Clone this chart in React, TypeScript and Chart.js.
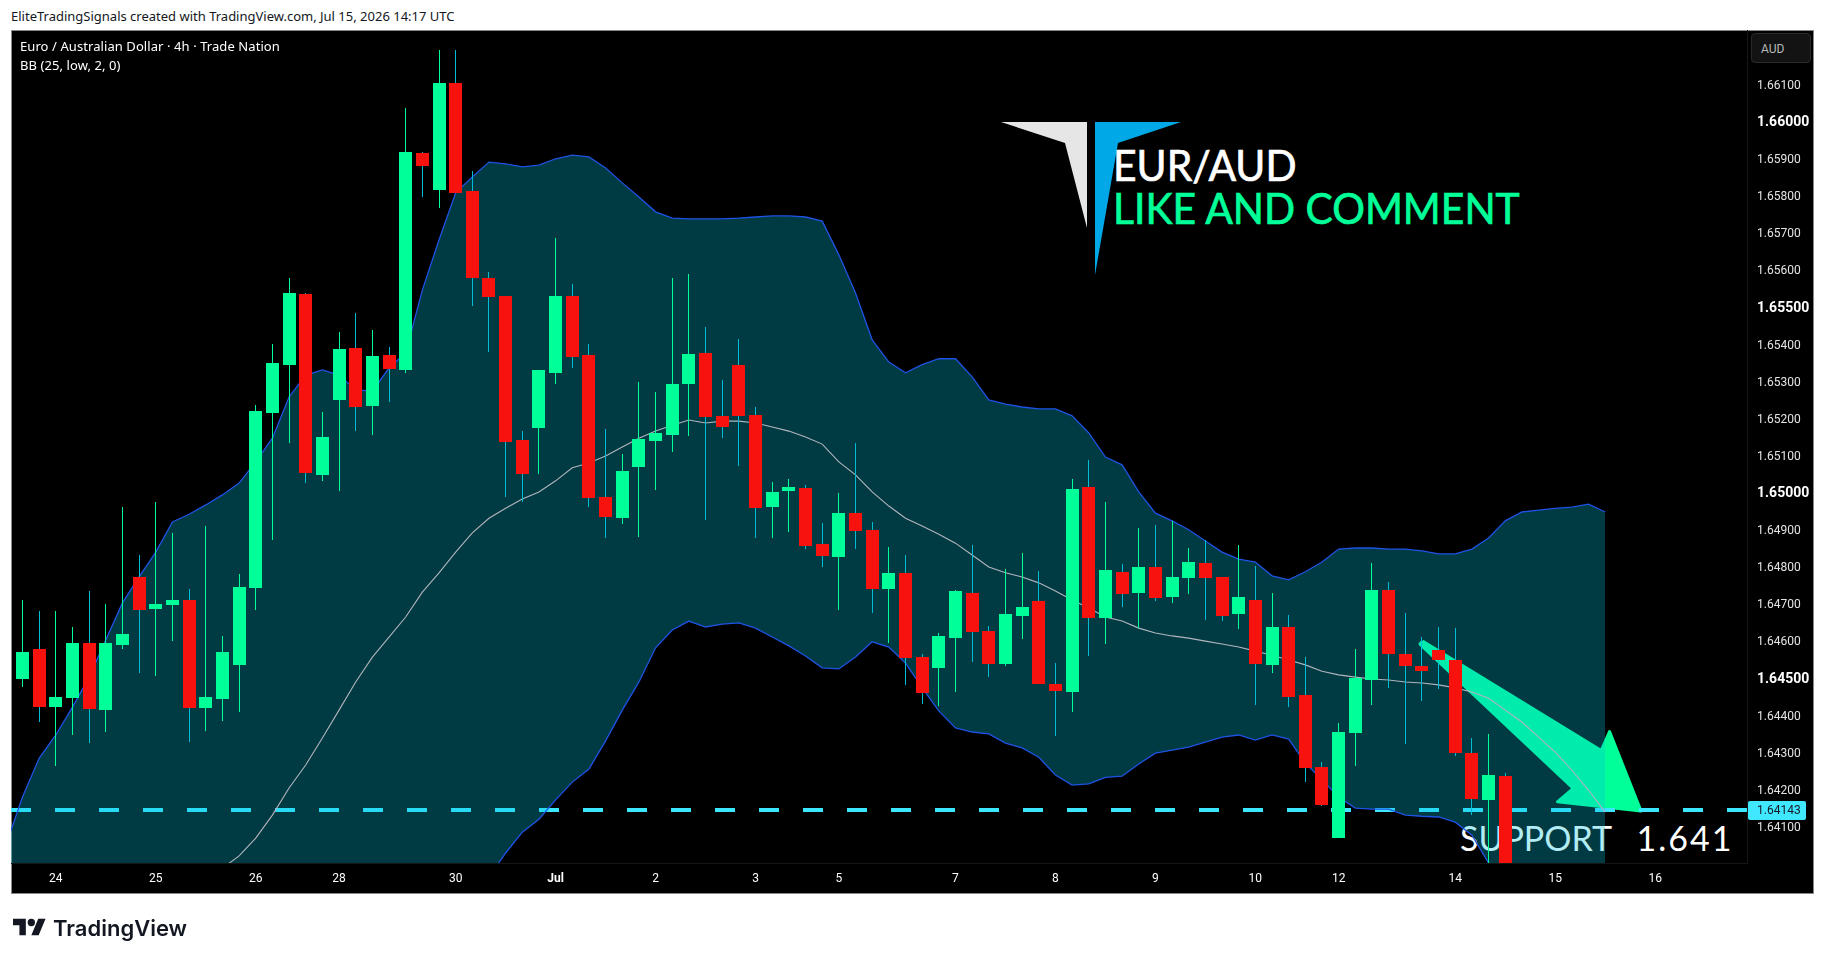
import React, { useEffect, useRef } from "react";
import { Chart, registerables } from "chart.js";

Chart.register(...registerables);

const open = [1.64496,1.64577,1.6442,1.64444,1.64593,1.64412,1.64587,1.64771,1.64685,1.64695,
1.64709,1.64417,1.64442,1.64534,1.64742,1.65213,1.65343,1.65534,1.65046,1.65248,
1.65388,1.65232,1.6537,1.65329,1.65914,1.65814,1.66102,1.65811,1.65577,1.65528,
1.6514,1.65172,1.65321,1.65528,1.6537,1.64986,1.64929,1.65067,1.65138,1.65153,
1.65291,1.65375,1.65205,1.65343,1.65207,1.64959,1.65003,1.65011,1.6486,1.64825,
1.64943,1.64898,1.64739,1.64782,1.64555,1.64526,1.64606,1.64728,1.64625,1.64536,
1.64666,1.64706,1.64482,1.64461,1.65013,1.6466,1.64785,1.64728,1.64798,1.64717,
1.64768,1.64809,1.64771,1.64671,1.64709,1.64534,1.64636,1.64453,1.64258,1.64067,
1.6435,1.64493,1.64736,1.64563,1.64531,1.64574,1.64547,1.64296,1.6417,1.64234];
const high = [1.64709,1.64679,1.64679,1.64636,1.64733,1.64698,1.64959,1.6483,1.64973,1.6489,
1.64739,1.64909,1.64612,1.64779,1.65235,1.65399,1.65577,1.65536,1.65216,1.65431,
1.65482,1.65437,1.65391,1.66035,1.65917,1.66191,1.66191,1.65865,1.65593,1.65528,
1.65164,1.65329,1.65685,1.65561,1.65399,1.6517,1.65102,1.65296,1.6527,1.65577,
1.65588,1.65444,1.65302,1.65412,1.65229,1.65027,1.65035,1.65019,1.64916,1.64997,
1.65132,1.64919,1.64852,1.6483,1.64563,1.6462,1.64736,1.64857,1.64639,1.64793,
1.64836,1.64787,1.64539,1.65035,1.65086,1.64973,1.64806,1.64903,1.64911,1.64922,
1.64849,1.64871,1.64771,1.64857,1.64801,1.64728,1.64669,1.64555,1.64272,1.64377,
1.64577,1.64809,1.64757,1.64674,1.64609,1.64636,1.64633,1.64337,1.64348,1.64242];
const low = [1.64474,1.6438,1.64261,1.64345,1.64323,1.64353,1.64577,1.64512,1.64504,1.64598,
1.64326,1.64356,1.64382,1.64407,1.64682,1.64871,1.65132,1.65024,1.6503,1.65003,
1.65164,1.65153,1.65243,1.65321,1.65795,1.65765,1.65806,1.65501,1.65377,1.64986,
1.64973,1.65049,1.65291,1.65334,1.64959,1.64876,1.64913,1.64879,1.65005,1.65107,
1.65151,1.64924,1.65145,1.6507,1.64876,1.64876,1.64892,1.64846,1.64798,1.64682,
1.64846,1.64674,1.64593,1.6448,1.64428,1.64423,1.64461,1.64542,1.64501,1.64531,
1.64604,1.64482,1.64342,1.64407,1.64558,1.6459,1.6469,1.64633,1.64706,1.647,
1.64725,1.64655,1.64652,1.6463,1.64426,1.64512,1.6442,1.64218,1.64153,1.64067,
1.64261,1.64426,1.64472,1.6432,1.64436,1.64469,1.64288,1.64129,1.6399,1.6397];
const close = [1.64569,1.6442,1.64447,1.64593,1.64415,1.64593,1.64617,1.64682,1.64698,1.64709,
1.64417,1.64447,1.64569,1.64744,1.65218,1.65348,1.65536,1.65051,1.65148,1.65385,
1.65229,1.65367,1.65332,1.65917,1.65879,1.66102,1.65806,1.65577,1.65525,1.65135,
1.65049,1.65329,1.65528,1.65364,1.64984,1.64932,1.65057,1.65143,1.65159,1.65291,
1.65372,1.65202,1.65175,1.65205,1.64956,1.65,1.65013,1.64854,1.64828,1.64943,
1.64895,1.64739,1.64782,1.64553,1.64458,1.64612,1.64733,1.64622,1.64536,1.64671,
1.6469,1.64482,1.64463,1.65008,1.6466,1.6479,1.64725,1.64798,1.64714,1.64771,
1.64811,1.64768,1.64666,1.64717,1.64536,1.64636,1.64447,1.64256,1.64156,1.64353,
1.64499,1.64736,1.64563,1.64531,1.64518,1.64547,1.64296,1.64173,1.64237,1.6398];

// Bollinger bands start one candle before the first visible candle.
const bandFirstIndex = -1;
const upperBand = [1.64048,1.64178,1.64282,1.64345,1.6442,1.64501,1.64601,1.64701,1.64771,1.64838,1.64919,
1.6494,1.64965,1.64992,1.65024,1.65081,1.65145,1.65256,1.65315,1.65329,1.65315,
1.65275,1.65272,1.65334,1.65375,1.65544,1.65679,1.65806,1.65849,1.65889,1.65884,
1.65876,1.65881,1.65898,1.65908,1.65903,1.65873,1.65833,1.65795,1.65755,1.65738,
1.65736,1.65736,1.65736,1.65738,1.65741,1.65744,1.65744,1.65741,1.6573,1.65639,
1.65536,1.6541,1.6535,1.65321,1.65343,1.65359,1.65359,1.6531,1.65248,1.65237,
1.65229,1.65224,1.65224,1.65205,1.65159,1.65094,1.65073,1.65,1.64943,1.64922,
1.64898,1.64868,1.64838,1.64819,1.64811,1.64774,1.64763,1.64785,1.64811,1.64846,
1.64849,1.64849,1.64846,1.64846,1.64841,1.64833,1.64833,1.64846,1.64876,1.64922,
1.64946,1.64951,1.64956,1.64959,1.64967,1.64946];
const middleBand = [1.6368,1.6369,1.637,1.6371,1.6372,1.6373,1.6375,1.6377,1.638,1.63833,1.63873,
1.63914,1.63954,1.63986,1.64019,1.64067,1.64129,1.64202,1.64264,1.64337,1.64412,
1.64488,1.64555,1.64609,1.64663,1.6473,1.64782,1.64838,1.6489,1.64929,1.64956,
1.64981,1.65,1.6503,1.65065,1.65078,1.65097,1.65121,1.65145,1.65164,1.6518,
1.65194,1.65186,1.65191,1.65191,1.65186,1.65175,1.65164,1.65148,1.65129,1.65081,
1.65046,1.65,1.64962,1.64929,1.64908,1.64886,1.64862,1.6483,1.64798,1.64782,
1.64771,1.64755,1.64733,1.64709,1.64687,1.64663,1.64652,1.64633,1.6462,1.64612,
1.64606,1.64598,1.6459,1.64582,1.64571,1.6456,1.64547,1.64534,1.64517,1.64507,
1.64501,1.64496,1.64493,1.64488,1.64485,1.6448,1.64472,1.64461,1.64444,1.64412,
1.6438,1.64339,1.64299,1.6425,1.64196,1.64137];
const lowerBand = [1.6399,1.6396,1.6393,1.639,1.6387,1.6384,1.6381,1.6378,1.6376,1.6374,1.6372,
1.637,1.6369,1.6368,1.6367,1.6367,1.6368,1.6369,1.637,1.6371,1.6372,
1.6373,1.6374,1.6375,1.6376,1.6378,1.638,1.6384,1.639,1.63962,1.64027,
1.64083,1.64118,1.6417,1.64218,1.64253,1.64329,1.64412,1.64488,1.6458,1.64628,
1.64652,1.64636,1.64644,1.64647,1.64633,1.64609,1.64585,1.64558,1.64526,1.64523,
1.64555,1.64596,1.64582,1.64539,1.64472,1.6441,1.64364,1.64353,1.64348,1.64323,
1.6431,1.64285,1.64237,1.6421,1.64213,1.64231,1.64234,1.64267,1.64296,1.64304,
1.64312,1.64326,1.64339,1.64345,1.64331,1.64345,1.64334,1.64269,1.64224,1.64178,
1.64148,1.64145,1.64145,1.64129,1.64126,1.64124,1.6411,1.64075,1.64,1.63941,
1.639,1.6388,1.6387,1.6386,1.6386,1.6386];

const currentPrice = 1.64143;
const arrowX = [84.03, 94.76, 95.26, 97.15, 92.13, 93.08, 83.88, 84.03];
const arrowY = [1.64598, 1.64303, 1.64354, 1.6414, 1.64165, 1.64201, 1.6459, 1.64598];

const priceTicks = [1.641,1.642,1.643,1.644,1.645,1.646,1.647,1.648,1.649,1.65,1.651,1.652,1.653,1.654,1.655,1.656,1.657,1.658,1.659,1.66,1.661];
const boldPriceTicks = ["1.64500", "1.65000", "1.65500", "1.66000"];
const timeTickIndex = [2, 8, 14, 19, 26, 32, 38, 44, 49, 56, 62, 68, 74, 79, 86, 92, 98];
const timeTickLabels = ["24", "25", "26", "28", "30", "Jul", "2", "3", "5", "7", "8", "9", "10", "12", "14", "15", "16"];

const xMin = -0.69;
const xMax = 103.51;
const yMin = 1.64;
const yMax = 1.66245;

const UP = "#00ff99";
const DOWN = "#f8120e";
const DOWN_WICK = "#00bcd4";
const BAND_LINE = "#1e53e5";
const BAND_FILL = "rgba(0,193,220,0.3)";
const MID_LINE = "#b2b5be";
const PRICE_LINE = "#3ce6ff";
const UI_FONT = "Roboto, sans-serif";

const snapBars = {
  id: "snapBars",
  beforeDatasetsDraw(chart: any) {
    chart.getSortedVisibleDatasetMetas().forEach((meta: any) => {
      if (meta.type !== "bar") return;
      meta.data.forEach((el: any) => {
        el.x = Math.floor(el.x) + 0.5;
        el.y = Math.round(el.y);
        el.base = Math.round(el.base);
      });
    });
  },
};

const priceTag = {
  id: "priceTag",
  afterDraw(chart: any) {
    const { ctx, scales } = chart;
    const y = scales.y.getPixelForValue(currentPrice);
    const left = scales.y.left + 1;
    ctx.save();
    ctx.fillStyle = "#40e8ff";
    ctx.beginPath();
    ctx.roundRect(left, Math.round(y) - 9, 58, 19, 2);
    ctx.fill();
    ctx.fillStyle = "#131722";
    ctx.font = `12px ${UI_FONT}`;
    ctx.textAlign = "left";
    ctx.textBaseline = "middle";
    ctx.fillText(currentPrice.toFixed(5), left + 9, Math.round(y) + 1);
    ctx.restore();
  },
};

export default function App() {
  const ref = useRef<HTMLCanvasElement | null>(null);

  useEffect(() => {
    document.body.style.margin = "0";
    document.body.style.overflow = "hidden";
    const idx = open.map((_, i) => i);
    const band = (arr: number[]) => arr.map((y, i) => ({ x: i + bandFirstIndex, y }));
    const chart = new Chart(ref.current as HTMLCanvasElement, {
      type: "bar",
      data: {
        datasets: [
          {
            type: "line",
            label: "Arrow",
            data: arrowX.map((x, i) => ({ x, y: arrowY[i] })),
            borderColor: UP,
            backgroundColor: UP,
            borderWidth: 3,
            borderJoinStyle: "round",
            pointRadius: 0,
            fill: "shape",
            order: 7,
          },
          {
            type: "line",
            label: "Support",
            data: [{ x: xMin, y: currentPrice }, { x: xMax, y: currentPrice }],
            borderColor: PRICE_LINE,
            borderWidth: 4,
            borderDash: [20, 24],
            pointRadius: 0,
            fill: false,
            order: 6,
          },
          {
            type: "line",
            label: "Upper",
            data: band(upperBand),
            borderColor: BAND_LINE,
            borderWidth: 1.3,
            pointRadius: 0,
            fill: { target: "+1", above: BAND_FILL, below: BAND_FILL },
            order: 5,
          },
          {
            type: "line",
            label: "Lower",
            data: band(lowerBand),
            borderColor: BAND_LINE,
            borderWidth: 1.3,
            pointRadius: 0,
            fill: false,
            order: 4,
          },
          {
            type: "line",
            label: "Basis",
            data: band(middleBand),
            borderColor: MID_LINE,
            borderWidth: 1.1,
            pointRadius: 0,
            fill: false,
            order: 3,
          },
          {
            type: "bar",
            label: "Wicks",
            data: idx.map((i) => ({ x: i, y: [low[i], high[i]] })),
            backgroundColor: idx.map((i) => (close[i] >= open[i] ? UP : DOWN_WICK)),
            barThickness: 1,
            grouped: false,
            inflateAmount: 0,
            order: 2,
          },
          {
            type: "bar",
            label: "Bodies",
            data: idx.map((i) => ({ x: i, y: [open[i], close[i]] })),
            backgroundColor: idx.map((i) => (close[i] >= open[i] ? UP : DOWN)),
            barThickness: 13,
            grouped: false,
            inflateAmount: 0,
            order: 1,
          },
        ] as any,
      },
      options: {
        responsive: false,
        animation: false,
        devicePixelRatio: 1,
        layout: { padding: { left: 11, top: 30, right: 12, bottom: 67 } },
        plugins: { legend: { display: false }, tooltip: { enabled: false }, title: { display: false } },
        scales: {
          x: {
            type: "linear",
            offset: false,
            min: xMin,
            max: xMax,
            grid: { display: false, drawTicks: false },
            border: { color: "#161616" },
            afterBuildTicks(scale: any) {
              scale.ticks = timeTickIndex.map((value) => ({ value }));
            },
            afterFit(scale: any) {
              scale.height = 30;
            },
            ticks: {
              autoSkip: false,
              maxRotation: 0,
              padding: 9,
              color: "#ffffff",
              font: (ctx: any) => {
                const label = timeTickLabels[timeTickIndex.indexOf(ctx.tick?.value)];
                return { family: UI_FONT, size: 12, weight: label === "Jul" ? "bold" : "normal" };
              },
              callback: (value: any) => timeTickLabels[timeTickIndex.indexOf(value)] ?? "",
            },
          },
          y: {
            type: "linear",
            position: "right",
            min: yMin,
            max: yMax,
            grid: { display: false, drawTicks: false },
            border: { color: "#161616" },
            afterBuildTicks(scale: any) {
              scale.ticks = priceTicks.map((value) => ({ value }));
            },
            afterFit(scale: any) {
              scale.width = 67;
            },
            ticks: {
              autoSkip: false,
              padding: 10,
              labelOffset: 2,
              crossAlign: "near",
              color: (ctx: any) => (boldPriceTicks.includes(Number(ctx.tick?.value).toFixed(5)) ? "#ffffff" : "#e4e4e4"),
              font: (ctx: any) => {
                const major = boldPriceTicks.includes(Number(ctx.tick?.value).toFixed(5));
                return { family: UI_FONT, size: major ? 14 : 12, weight: major ? "bold" : "normal" };
              },
              callback: (value: any) => Number(value).toFixed(5),
            },
          },
        },
      },
      plugins: [snapBars, priceTag],
    } as any);
    return () => chart.destroy();
  }, []);

  const text = (style: React.CSSProperties): React.CSSProperties => ({
    position: "absolute",
    whiteSpace: "pre",
    lineHeight: 1,
    ...style,
  });

  return (
    <div style={{ position: "absolute", left: 0, top: 0, width: 1826, height: 960, background: "#ffffff", overflow: "hidden" }}>
      <div style={text({ left: 11, top: 10, fontFamily: "'Noto Sans', sans-serif", fontSize: 13, color: "#131722" })}>
        EliteTradingSignals created with TradingView.com, Jul 15, 2026 14:17 UTC
      </div>
      <div style={{ position: "absolute", left: 11, top: 30, width: 1803, height: 864, background: "#000", border: "1px solid #8a8a8a", boxSizing: "border-box" }} />

      <svg style={{ position: "absolute", left: 990, top: 110, width: 200, height: 180 }} viewBox="990 110 200 180">
        <polygon points="1001,122 1087,122 1087,228 1065,143" fill="#e6e6e6" />
        <polygon points="1095,122 1181,122 1118,143 1095,275" fill="#00a8e8" />
      </svg>
      <div style={text({ left: 1113, top: 143, fontFamily: "Lato, sans-serif", fontSize: 43, color: "#ffffff", transform: "scaleX(0.95)", transformOrigin: "left top", WebkitTextStroke: "0.7px #ffffff" })}>EUR/AUD</div>
      <div style={text({ left: 1113, top: 186, fontFamily: "Lato, sans-serif", fontSize: 43, color: UP, transform: "scaleX(0.95)", transformOrigin: "left top", WebkitTextStroke: "0.7px " + UP })}>LIKE AND COMMENT</div>
      <div style={text({ left: 1460, top: 821, fontFamily: "Lato, sans-serif", fontSize: 34, color: "#ffffff" })}>
        SUPPORT  <span style={{ marginLeft: 8, letterSpacing: 2 }}>1.641</span>
      </div>

      <canvas ref={ref} width={1826} height={960} style={{ position: "absolute", left: 0, top: 0, width: 1826, height: 960 }} />

      <div style={text({ left: 20, top: 40, fontFamily: "'Noto Sans', sans-serif", fontSize: 13, letterSpacing: 0.08, color: "#ffffff" })}>
        Euro / Australian Dollar · 4h · Trade Nation
      </div>
      <div style={text({ left: 20, top: 59, fontFamily: "'Noto Sans', sans-serif", fontSize: 13, letterSpacing: 0.08, color: "#ffffff" })}>BB (25, low, 2, 0)</div>

      <div style={{ position: "absolute", left: 1751, top: 33, width: 60, height: 30, background: "#131313", border: "1px solid #2a2a2a", borderRadius: 4, boxSizing: "border-box" }} />
      <div style={text({ left: 1761, top: 43, fontFamily: UI_FONT, fontSize: 12, color: "#b8b8b8" })}>AUD</div>

      <svg style={{ position: "absolute", left: 13, top: 915, width: 33, height: 26 }} viewBox="0 0 36 28" fill="#131722">
        <path d="M14 22H7V11H0V4h14v18zM28 22h-8l7.5-18h8L28 22z" />
        <circle cx="20" cy="8" r="4" />
      </svg>
      <div style={text({ left: 53, top: 917, fontFamily: "Inter, sans-serif", fontWeight: 600, fontSize: 22, color: "#131722" })}>TradingView</div>
    </div>
  );
}
